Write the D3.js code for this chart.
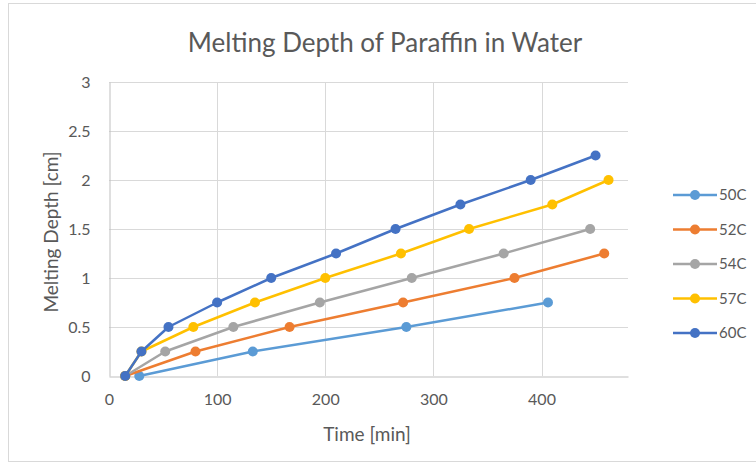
<!DOCTYPE html>
<html><head><meta charset="utf-8">
<script src="https://cdn.jsdelivr.net/npm/d3@7"></script>
<style>
html,body{margin:0;padding:0;background:#fff;}
svg{display:block;font-family:Lato,"Open Sans",sans-serif;}
</style></head>
<body>
<svg id="chart" width="756" height="465"></svg>
<script>
const seriesNames = ["50C","52C","54C","57C","60C"];
const seriesColors = ["#5B9BD5","#ED7D31","#A5A5A5","#FFC000","#4472C4"];
const time50 = [28,133,275,406];
const depth50 = [0,0.25,0.5,0.75];
const time52 = [15,80,167,272,375,458];
const depth52 = [0,0.25,0.5,0.75,1.0,1.25];
const time54 = [15,52,115,195,280,365,445];
const depth54 = [0,0.25,0.5,0.75,1.0,1.25,1.5];
const time57 = [15,30,78,135,200,270,333,410,462];
const depth57 = [0,0.25,0.5,0.75,1.0,1.25,1.5,1.75,2.0];
const time60 = [15,30,55,100,150,210,265,325,390,450];
const depth60 = [0,0.25,0.5,0.75,1.0,1.25,1.5,1.75,2.0,2.25];
const xTicks = [0,100,200,300,400];
const yTicks = [0,0.5,1,1.5,2,2.5,3];
const yTickLabels = ["0","0.5","1","1.5","2","2.5","3"];
const titleText = "Melting Depth of Paraffin in Water";
const xTitle = "Time [min]";
const yTitle = "Melting Depth [cm]";

const times = [time50,time52,time54,time57,time60];
const depths = [depth50,depth52,depth54,depth57,depth60];
const series = seriesNames.map((n,i)=>({name:n,color:seriesColors[i],
  pts:times[i].map((t,j)=>({x:t,y:depths[i][j]}))}));

const svg = d3.select("#chart");
// chart border
svg.append("rect").attr("x",8.5).attr("y",3.5).attr("width",760).attr("height",458)
  .attr("fill","#fff").attr("stroke","#d9d9d9").attr("stroke-width",1);

const L=109, R=628, T=82, B=376;
const x = d3.scaleLinear().domain([0,480]).range([L,R]);
const y = d3.scaleLinear().domain([0,3]).range([B,T]);

// gridlines
svg.append("g").selectAll("line").data(yTicks.filter(d=>d>0)).join("line")
  .attr("x1",L).attr("x2",R).attr("y1",d=>Math.round(y(d))+0.5).attr("y2",d=>Math.round(y(d))+0.5)
  .attr("stroke","#d9d9d9").attr("stroke-width",1);
svg.append("g").selectAll("line").data(xTicks.filter(d=>d>0)).join("line")
  .attr("x1",d=>Math.round(x(d))+0.5).attr("x2",d=>Math.round(x(d))+0.5).attr("y1",T).attr("y2",B)
  .attr("stroke","#d9d9d9").attr("stroke-width",1);

// axes
const xAxis = d3.axisBottom(x).tickValues(xTicks).tickSize(0).tickPadding(17);
const gx = svg.append("g").attr("transform",`translate(0,${Math.round(y(0))+0.5})`).call(xAxis);
gx.select(".domain").attr("stroke","#bfbfbf");
gx.selectAll("text").attr("fill","#595959").style("font-size","16px").style("font-family","Lato,'Open Sans',sans-serif");

const yAxis = d3.axisLeft(y).tickValues(yTicks).tickFormat((d,i)=>yTickLabels[i]).tickSize(0).tickPadding(19);
const gy = svg.append("g").attr("transform",`translate(${Math.round(x(0))+0.5},0)`).call(yAxis);
gy.select(".domain").attr("stroke","#bfbfbf");
gy.selectAll("text").attr("fill","#595959").style("font-size","16px").style("font-family","Lato,'Open Sans',sans-serif");

// series
const line = d3.line().x(d=>x(d.x)).y(d=>y(d.y));
series.forEach(s=>{
  svg.append("path").datum(s.pts).attr("d",line).attr("fill","none")
    .attr("stroke",s.color).attr("stroke-width",2.5).attr("stroke-linejoin","round");
  svg.append("g").selectAll("circle").data(s.pts).join("circle")
    .attr("cx",d=>x(d.x)).attr("cy",d=>y(d.y)).attr("r",5).attr("fill",s.color);
});

// title
svg.append("text").attr("x",385).attr("y",52).attr("text-anchor","middle")
  .attr("fill","#595959").style("font-size","26px").text(titleText);
// axis titles
svg.append("text").attr("x",367).attr("y",441).attr("text-anchor","middle")
  .attr("fill","#595959").style("font-size","19px").text(xTitle);
svg.append("text").attr("transform","translate(58,232) rotate(-90)").attr("text-anchor","middle")
  .attr("fill","#595959").style("font-size","19px").text(yTitle);

// legend
const lg = svg.append("g");
series.forEach((s,i)=>{
  const yy = 195 + i*34.5;
  lg.append("line").attr("x1",673).attr("x2",717).attr("y1",yy).attr("y2",yy)
    .attr("stroke",s.color).attr("stroke-width",2.5);
  lg.append("circle").attr("cx",695).attr("cy",yy).attr("r",5).attr("fill",s.color);
  lg.append("text").attr("x",719).attr("y",yy+5).attr("fill","#595959")
    .style("font-size","15px").text(s.name);
});
</script>
</body></html>
